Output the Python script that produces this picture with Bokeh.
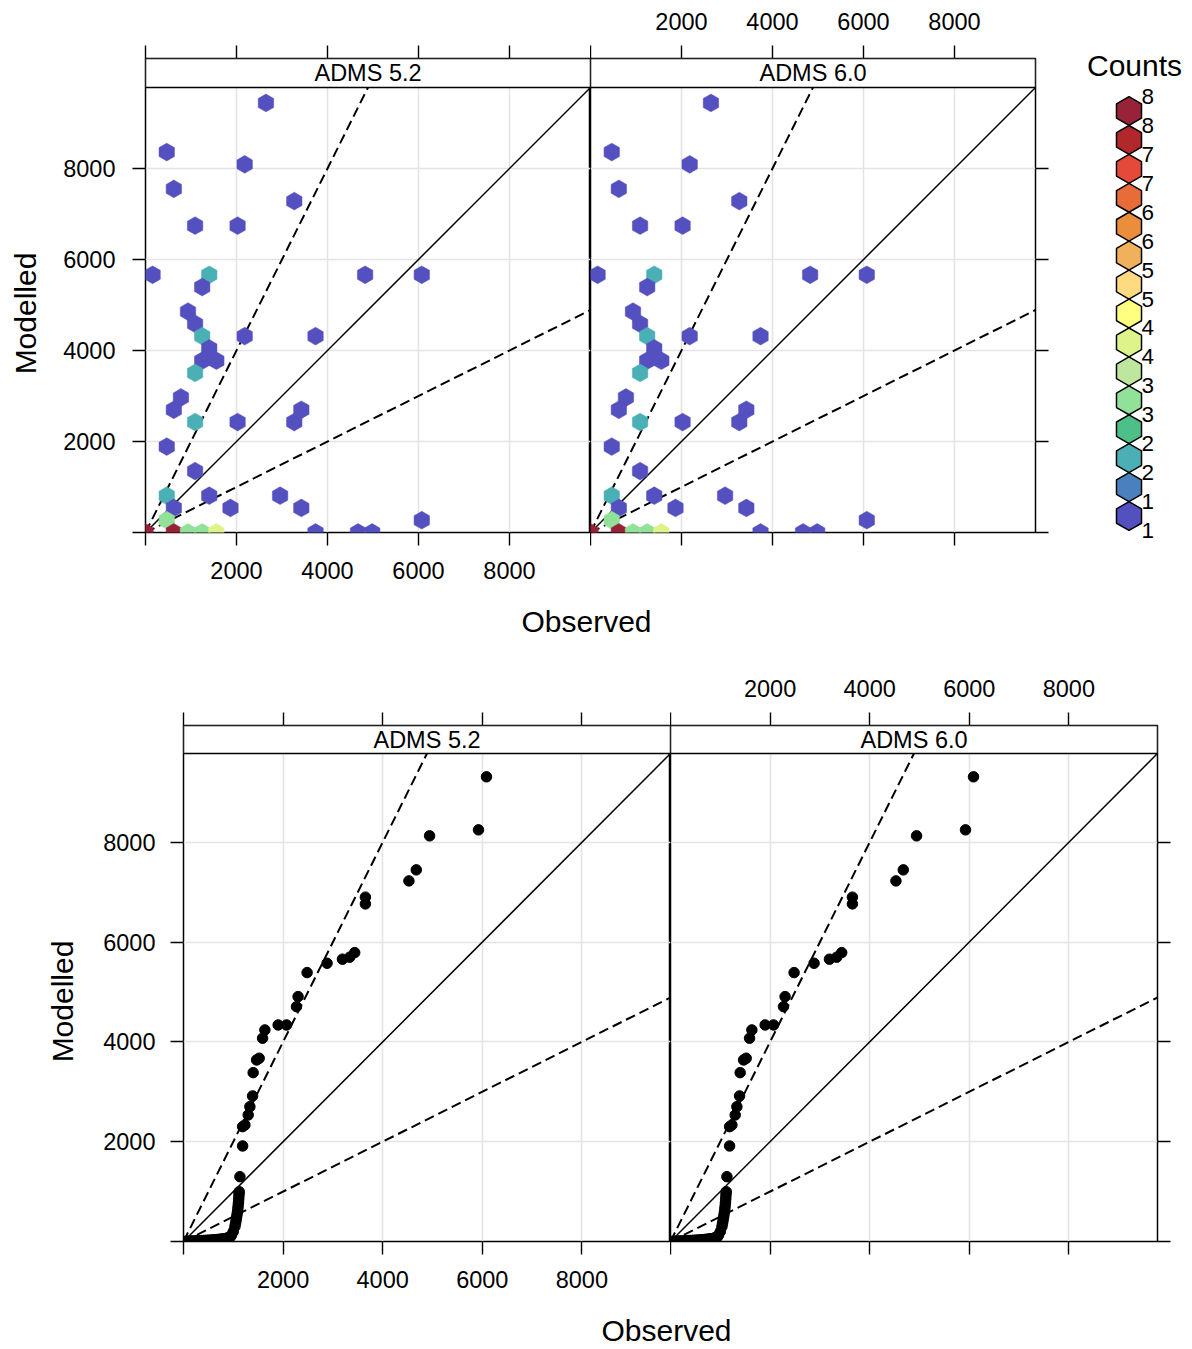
import numpy as np
from bokeh.plotting import figure
from bokeh.layouts import row, column
from bokeh.models import Range1d, LinearAxis, FixedTicker, BoxAnnotation, Label, Grid
from bokeh.embed import file_html
from bokeh.resources import INLINE

FONT = "Liberation Sans"

# ---------------- data ----------------
panel_names = ["ADMS 5.2", "ADMS 6.0"]
axis_ticks = [0, 2000, 4000, 6000, 8000]
axis_tick_labels = ["", "2000", "4000", "6000", "8000"]
axis_max = 9780

# hexbin cells (centre observed, centre modelled, count) - same in both panels
hex_obs = [2647, 467, 2180, 623, 3270, 1090, 2024, 156, 1401, 4827, 6072, 1246, 934,
           1090, 1246, 2180, 3737, 1401, 1246, 1557, 1090, 779, 623, 3425, 1090, 2024,
           3270, 467, 1090, 467, 1401, 2958, 623, 1868, 3425, 6072, 467, 0, 623, 934,
           1246, 1557, 3737, 4671, 4982]
hex_mod = [9440, 8361, 8091, 7552, 7282, 6743, 6743, 5664, 5664, 5664, 5664, 5394, 4855,
           4585, 4315, 4315, 4315, 4046, 3776, 3776, 3506, 2967, 2697, 2697, 2427, 2427,
           2427, 1888, 1349, 809, 809, 809, 539, 539, 539, 270, 270, 0, 0, 0,
           0, 0, 0, 0, 0]
hex_count = [1, 1, 1, 1, 1, 1, 1, 1, 2, 1, 1, 1, 1,
             1, 2, 1, 1, 1, 1, 1, 2, 1, 1, 1, 2, 1,
             1, 1, 1, 2, 1, 1, 1, 1, 1, 1, 3, 8, 8, 3,
             3, 4, 1, 1, 1]

count_palette = ["#5450C0", "#4A80BE", "#4AB0B5", "#4DC089", "#92E199", "#BEE69C",
                 "#DEF48A", "#FFFF80", "#FFDA80", "#F0B05C", "#EA8E3E", "#E86C38",
                 "#E5493A", "#B0282C", "#982338"]
key_labels = ["1", "1", "2", "2", "3", "3", "4", "4", "5", "5", "6", "6", "7", "7", "8", "8"]

# quantile-quantile points (sorted observed vs sorted modelled) - same in both panels
qq_obs = [20, 50, 80, 110, 140, 170, 200, 240, 280, 320, 360, 400, 440, 480, 520, 560,
          600, 640, 680, 720, 760, 790, 820, 850, 870, 890, 910, 925, 940,
          966, 1000,
          1033, 1045, 1055, 1065, 1075, 1085, 1092, 1098, 1104, 1108, 1112, 1116,
          1119, 1133, 1187, 1187, 1233, 1299, 1333, 1387, 1399, 1468, 1520, 1588,
          1634, 1901, 2069, 2269, 2301, 2482, 2883, 3192, 3338, 3438, 3653, 3653,
          4527, 4675, 4942, 5924, 6085]
qq_mod = [0, 0, 2, 4, 6, 8, 10, 12, 14, 16, 18, 20, 22, 24, 27, 30,
          33, 36, 40, 44, 48, 52, 56, 60, 65, 70, 76, 82, 90,
          130, 200,
          300, 360, 420, 480, 540, 600, 660, 720, 780, 840, 900, 960,
          998, 1299, 1915, 2302, 2336, 2536, 2702, 2917, 3384, 3639, 3673, 4074,
          4240, 4340, 4340, 4707, 4908, 5389, 5577, 5658, 5698, 5790, 6766, 6901,
          7227, 7448, 8130, 8250, 9313]

# ---------------- helpers ----------------
def count_colour(c):
    lo, hi = min(hex_count), max(hex_count)
    i = int(round((c - lo) / (hi - lo) * (len(count_palette) - 1)))
    return count_palette[i]


def add_axis(p, side, labels, standoff):
    overrides = {t: (lab if labels else "") for t, lab in zip(axis_ticks, axis_tick_labels)}
    ax = LinearAxis(ticker=FixedTicker(ticks=axis_ticks),
                    major_label_overrides=overrides,
                    axis_line_color=None,
                    major_tick_in=0, major_tick_out=13,
                    major_tick_line_color="black", major_tick_line_width=1.4,
                    minor_tick_line_color=None,
                    major_label_standoff=standoff,
                    major_label_text_font=FONT,
                    major_label_text_font_size="23.5px",
                    major_label_text_color="black")
    p.add_layout(ax, side)


def make_panel(name, frame_w, frame_h, strip_h, left, right, top, bottom,
               first, stand):
    ytop = axis_max + strip_h * axis_max / frame_h
    p = figure(width=left + frame_w + right, height=top + frame_h + strip_h + bottom,
               x_range=Range1d(0, axis_max), y_range=Range1d(0, ytop),
               x_axis_location=None, y_axis_location=None,
               output_backend="svg", toolbar_location=None,
               min_border_left=left, min_border_right=right,
               min_border_top=top, min_border_bottom=bottom)
    p.center = []
    for dim in (0, 1):
        p.add_layout(Grid(dimension=dim, ticker=FixedTicker(ticks=axis_ticks[1:]),
                          grid_line_color="#E4E4E4", grid_line_width=1.6), "center")
    p.outline_line_color = "black"
    p.outline_line_width = 1.5
    # reference lines 1:1, 2:1, 1:2
    p.line([0, axis_max], [0, axis_max], line_color="black", line_width=1.5)
    p.line([0, axis_max / 2], [0, axis_max], line_color="black", line_width=2.0, line_dash="10 5")
    p.line([0, axis_max], [0, axis_max / 2], line_color="black", line_width=2.0, line_dash="10 5")
    # strip
    p.add_layout(BoxAnnotation(left=0, right=axis_max, bottom=axis_max, top=ytop,
                               fill_color="white", fill_alpha=1.0,
                               line_color="black", line_width=1.5, line_alpha=1.0))
    p.add_layout(Label(x=axis_max / 2, y=(axis_max + ytop) / 2, text=name,
                       text_align="center", text_baseline="middle",
                       text_font=FONT, text_font_size="23.5px", text_color="black"))
    # axes (lattice alternating)
    if first:
        add_axis(p, "left", True, stand["left"])
        add_axis(p, "below", True, stand["below"])
        add_axis(p, "above", False, stand["above"])
    else:
        add_axis(p, "right", False, 5)
        add_axis(p, "below", False, stand["below"])
        add_axis(p, "above", True, stand["above"])
    return p


def side_fig(w, h):
    # auxiliary figure (labels / colour key), frame = whole figure,
    # coordinates are pixels from its top-left corner
    f = figure(width=w, height=h, x_range=Range1d(0, w), y_range=Range1d(h, 0),
               x_axis_location=None, y_axis_location=None,
               output_backend="svg", toolbar_location=None, min_border=0)
    f.frame_align = False
    f.center = []
    f.outline_line_color = None
    f.scatter([0], [0], size=0, alpha=0)
    return f


def add_text(f, txt, x, y, angle=0.0, size="30px", align="center"):
    f.add_layout(Label(x=x, y=y, text=txt, angle=angle, text_align=align,
                       text_baseline="middle", text_font=FONT, text_font_size=size,
                       text_color="black"))


# ---------------- top chart: hexbin ----------------
stand_top = {"left": 17, "below": 16, "above": 16}
top_panels = []
for k, name in enumerate(panel_names):
    first = (k == 0)
    p = make_panel(name, 445, 445, 29,
                   95 if first else 0, 0 if first else 45, 58, 60, first, stand_top)
    cols = [count_colour(c) for c in hex_count]
    p.scatter(hex_obs, hex_mod, marker="hex", size=17.8, angle=np.pi / 6,
              fill_color=cols, line_color=cols, line_width=0.5)
    top_panels.append(p)

ylab_top = side_fig(50, 592)
add_text(ylab_top, "Modelled", 25, 313, angle=np.pi / 2)

# colour key (key area starts at page x 1080)
leg = side_fig(112, 592)
step = 28.93
n = len(count_palette)
key_y = [110.5 + step * (n - 1 - i) for i in range(n)]
leg.scatter([48.5] * n, key_y, marker="hex", size=28.9, angle=np.pi / 6,
            fill_color=count_palette, line_color="black", line_width=1.5)
for i, lab in enumerate(key_labels):
    add_text(leg, lab, 61, 96 + step * (len(key_labels) - 1 - i), size="22.5px", align="left")
add_text(leg, "Counts", 54, 65)

xlab_top = side_fig(1192, 60)
add_text(xlab_top, "Observed", 586, 29)

# ---------------- bottom chart: quantile-quantile ----------------
stand_bot = {"left": 15, "below": 16, "above": 16}
bot_panels = []
for k, name in enumerate(panel_names):
    first = (k == 0)
    p = make_panel(name, 487, 488, 28,
                   83 if first else 0, 0 if first else 30, 73, 60, first, stand_bot)
    p.scatter(qq_obs, qq_mod, marker="circle", size=10.5, fill_color="black",
              line_color="black")
    bot_panels.append(p)

# bottom row starts at page y 652
ylab_bot = side_fig(100, 649)
add_text(ylab_bot, "Modelled", 62, 349, angle=np.pi / 2)

xlab_bot = side_fig(1192, 48)
add_text(xlab_bot, "Observed", 666, 29)

layout = column(
    row(ylab_top, top_panels[0], top_panels[1], leg),
    xlab_top,
    row(ylab_bot, bot_panels[0], bot_panels[1]),
    xlab_bot,
)

open("out.html", "w").write(file_html(layout, INLINE))
